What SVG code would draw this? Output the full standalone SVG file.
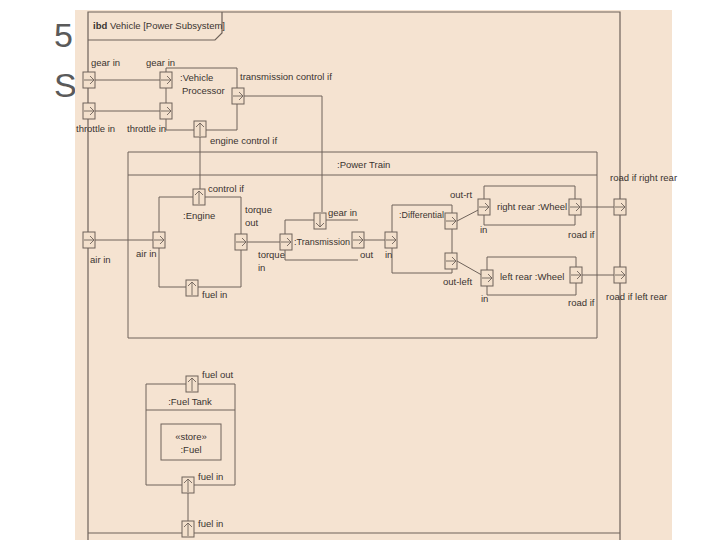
<svg xmlns="http://www.w3.org/2000/svg" width="720" height="540" viewBox="0 0 720 540">
<style>
.b{fill:none;stroke:#6e625a;stroke-width:1.2}
.p{fill:#f3e0cc;stroke:#6e625a;stroke-width:1}
.c{fill:none;stroke:#6e625a;stroke-width:1}
.a{fill:none;stroke:#6e625a;stroke-width:0.9}
text{font-family:"Liberation Sans",Arial,sans-serif;font-size:9.5px;fill:#3a3330}
.big{font-size:34px;fill:#5a5a5a}
</style>
<defs>
<g id="ar"><rect class="p" x="-6" y="-8" width="12" height="16"/><path class="a" d="M-5,0H5M1,-4L5,0L1,4"/></g>
<g id="au"><rect class="p" x="-6" y="-8" width="12" height="16"/><path class="a" d="M0,7V-6M-4,-2L0,-6L4,-2"/></g>
<g id="ad"><rect class="p" x="-6" y="-8" width="12" height="16"/><path class="a" d="M0,-7V6M-4,2L0,6L4,2"/></g>
</defs>
<rect width="720" height="540" fill="#fff"/>
<text class="big" x="54" y="47">5</text>
<text class="big" x="54" y="97">S</text>
<rect x="75" y="10" width="597" height="530" fill="#f5e3d1"/>
<g id="frame">
<path class="b" d="M88,540V12H620V540M88,533H620"/>
<path class="b" d="M88,40H215L222,33V12"/>
<text x="93" y="29"><tspan font-weight="bold">ibd</tspan> Vehicle [Power Subsystem]</text>
</g>
<g id="connectors">
<path class="c" d="M95,80H166M95,111H166"/>
<path class="c" d="M244,96H322V212"/>
<path class="c" d="M200,137V197"/>
<path class="c" d="M95,240H159"/>
<path class="c" d="M247,242H286"/>
<path class="c" d="M364,240H391"/>
<path class="c" d="M457,221L484,207M457,261L487,278"/>
<path class="c" d="M581,207H620M582,275H620"/>
<path class="c" d="M188,492V521"/>
</g>
<g id="vehicleProcessor">
<path class="c" d="M166,68H237V130H166Z"/>
<text x="180" y="81">:Vehicle</text><text x="182" y="94">Processor</text>
<use href="#ar" x="166" y="80"/><use href="#ar" x="166" y="111"/>
<use href="#ar" x="238" y="96"/><use href="#au" x="200" y="129"/>
<text x="146" y="66">gear in</text><text x="127" y="132">throttle in</text>
<text x="240" y="80">transmission control if</text><text x="210" y="144">engine control if</text>
</g>
<g id="boundaryPorts">
<use href="#ar" x="89" y="80"/><use href="#ar" x="89" y="111"/><use href="#ar" x="89" y="240"/>
<text x="91" y="66">gear in</text><text x="76" y="132">throttle in</text><text x="90" y="263">air in</text>
<use href="#ar" x="620" y="207"/><use href="#ar" x="620" y="275"/>
<text x="610" y="181">road if right rear</text><text x="606" y="300">road if left rear</text>
<use href="#au" x="188" y="529"/><text x="198" y="527">fuel in</text>
</g>
<g id="powerTrain">
<path class="c" d="M128,152H597V338H128ZM128,175H597"/>
<text x="337" y="168">:Power Train</text>
</g>
<g id="engine">
<path class="c" d="M159,197H241V287H159Z"/>
<text x="183" y="219">:Engine</text>
<use href="#au" x="199" y="197"/><use href="#ar" x="159" y="240"/><use href="#ar" x="241" y="242"/><use href="#au" x="192" y="288"/>
<text x="208" y="192">control if</text><text x="245" y="213">torque</text><text x="245" y="226">out</text>
<text x="136" y="257">air in</text><text x="202" y="298">fuel in</text>
</g>
<g id="transmission">
<path class="c" d="M285,220H358M285,220V260H358"/>
<text x="294" y="245" textLength="56" lengthAdjust="spacingAndGlyphs">:Transmission</text>
<use href="#ad" x="320" y="221"/><use href="#ar" x="286" y="242"/><use href="#ar" x="358" y="240"/>
<text x="328" y="216">gear in</text><text x="258" y="258">torque</text><text x="258" y="271">in</text>
<text x="360" y="258">out</text>
</g>
<g id="differential">
<path class="c" d="M392,205H452V273H392Z"/>
<text x="399" y="218" textLength="45" lengthAdjust="spacingAndGlyphs">:Differential</text>
<use href="#ar" x="391" y="240"/><use href="#ar" x="451" y="221"/><use href="#ar" x="451" y="261"/>
<text x="385" y="258">in</text><text x="450" y="198">out-rt</text><text x="443" y="285">out-left</text>
</g>
<g id="rightRearWheel">
<path class="c" d="M484,186H575V225H484Z"/>
<text x="497" y="210">right rear :Wheel</text>
<use href="#ar" x="484" y="207"/><use href="#ar" x="575" y="207"/>
<text x="480" y="233">in</text><text x="568" y="238">road if</text>
</g>
<g id="leftRearWheel">
<path class="c" d="M487,257H576V295H487Z"/>
<text x="500" y="280">left rear :Wheel</text>
<use href="#ar" x="487" y="278"/><use href="#ar" x="576" y="275"/>
<text x="481" y="302">in</text><text x="568" y="306">road if</text>
</g>
<g id="fuelTank">
<path class="c" d="M146,384H235V485H146ZM146,410H235"/>
<text x="190" y="405" text-anchor="middle">:Fuel Tank</text>
<rect class="c" x="161" y="424" width="60" height="36"/>
<text x="191" y="440" text-anchor="middle" font-size="8">«store»</text>
<text x="191" y="453" text-anchor="middle">:Fuel</text>
<use href="#au" x="192" y="384"/><use href="#au" x="188" y="485"/>
<text x="202" y="378">fuel out</text><text x="198" y="480">fuel in</text>
</g>
</svg>
